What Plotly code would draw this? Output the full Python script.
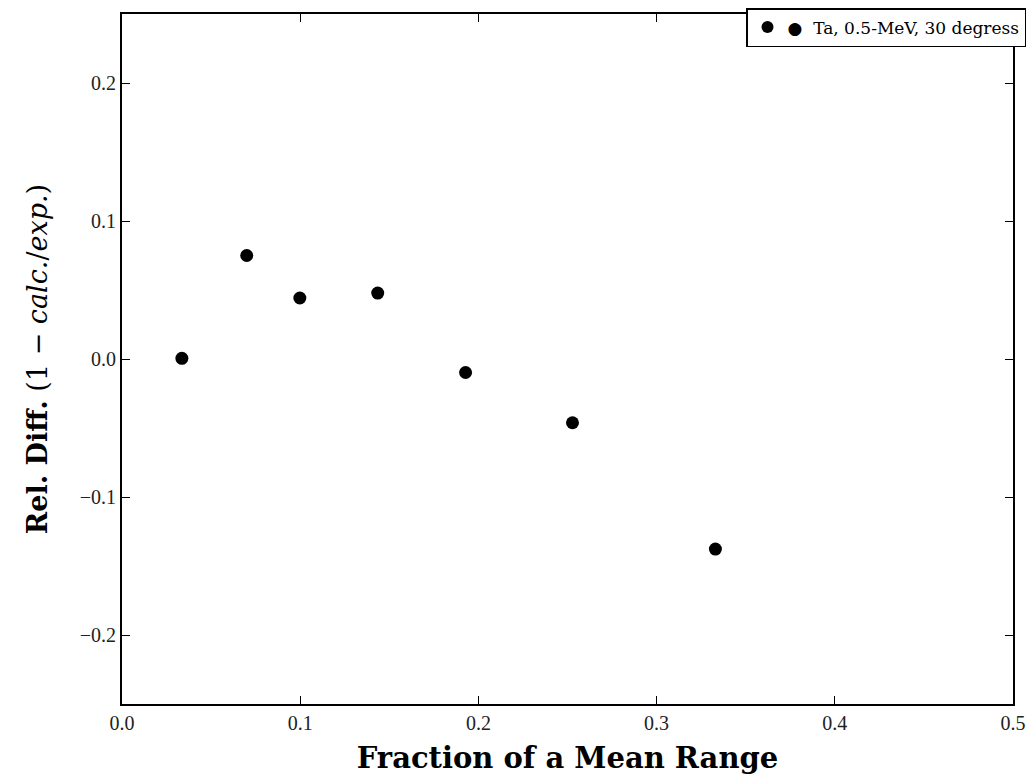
import plotly.graph_objects as go

fraction = [0.0336, 0.0700, 0.0998, 0.1435, 0.1928, 0.2528, 0.3330]
rel_diff = [0.0005, 0.0750, 0.0442, 0.0478, -0.0098, -0.0462, -0.1377]
series_name = "Ta, 0.5-MeV, 30 degress"
x_ticks = [0.0, 0.1, 0.2, 0.3, 0.4, 0.5]
y_ticks = [-0.2, -0.1, 0.0, 0.1, 0.2]

fig = go.Figure()
fig.add_trace(go.Scatter(
    x=fraction, y=rel_diff, mode="markers",
    name="●  " + series_name,
    marker=dict(color="black", size=13, line=dict(width=0)),
))

axis_common = dict(
    showgrid=False, zeroline=False, showline=True, linecolor="black", linewidth=2,
    mirror="ticks", ticks="inside", ticklen=8, tickwidth=1, tickcolor="black",
    tickfont=dict(family="Liberation Serif", size=20, color="#222"),
)

fig.update_layout(
    width=1018, height=767,
    paper_bgcolor="white", plot_bgcolor="white",
    margin=dict(l=114, r=0, t=2, b=68),
    font=dict(family="DejaVu Serif", color="black"),
    xaxis=dict(range=[0, 0.5], tickvals=x_ticks, ticktext=[f"{v:.1f}" for v in x_ticks],
               title=dict(text="<b>Fraction of a Mean Range</b>",
                          font=dict(family="DejaVu Serif", size=29), standoff=21),
               **axis_common),
    yaxis=dict(range=[-0.25, 0.25], tickvals=y_ticks,
               ticktext=[("−" if v < 0 else "") + f"{abs(v):.1f}" for v in y_ticks],
               title=dict(text="<b>Rel. Diff.</b> (1 − <i>calc.</i>/<i>exp.</i>)",
                          font=dict(family="DejaVu Serif", size=27), standoff=24),
               **axis_common),
    showlegend=True,
    legend=dict(x=1.0146, y=1.009, xanchor="right", yanchor="top",
                bgcolor="white", bordercolor="black", borderwidth=1.5,
                font=dict(family="DejaVu Serif", size=17, color="black"),
                itemsizing="constant"),
)

fig.write_html("out.html")
